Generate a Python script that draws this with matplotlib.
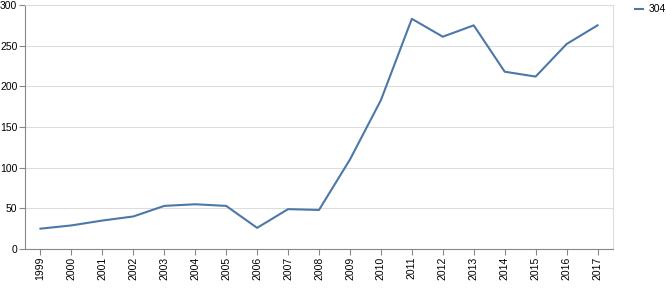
import matplotlib
matplotlib.use("Agg")
import matplotlib.pyplot as plt

years = [str(y) for y in range(1999, 2018)]
values = [25, 29, 35, 40, 53, 55, 53, 26, 49, 48, 110, 183, 283, 261, 275, 218, 212, 252, 275]
series_name = "304"

plt.rcParams['font.family'] = ['Liberation Sans', 'DejaVu Sans']

fig = plt.figure(figsize=(6.66, 3.0), dpi=100)
ax = fig.add_axes([25/666, 51/300, 588/666, 244/300])

x = list(range(len(years)))
ax.plot(x, values, color="#4c78a8", linewidth=1.5, label=series_name)

ax.set_xlim(-0.5, len(years) - 0.5)
ax.set_ylim(0, 300)
ax.set_yticks(range(0, 301, 50))
ax.set_xticks(x)
ax.set_xticklabels(years, rotation=90)

ax.grid(axis="y", color="#dddddd", linewidth=0.8)
ax.set_axisbelow(True)
for s in ["top", "right"]:
    ax.spines[s].set_color("#dddddd")
    ax.spines[s].set_linewidth(0.8)
for s in ["left", "bottom"]:
    ax.spines[s].set_color("#888888")
    ax.spines[s].set_linewidth(0.8)
ax.tick_params(colors="#888888", labelcolor="black", labelsize=7.5, length=4, width=0.8, pad=1.5)

ax.legend(loc="upper left", bbox_to_anchor=(1.03, 1.02), frameon=False, fontsize=7.5,
          handlelength=0.8, handletextpad=0.5, borderaxespad=0)

fig.savefig("out.png", dpi=100)
